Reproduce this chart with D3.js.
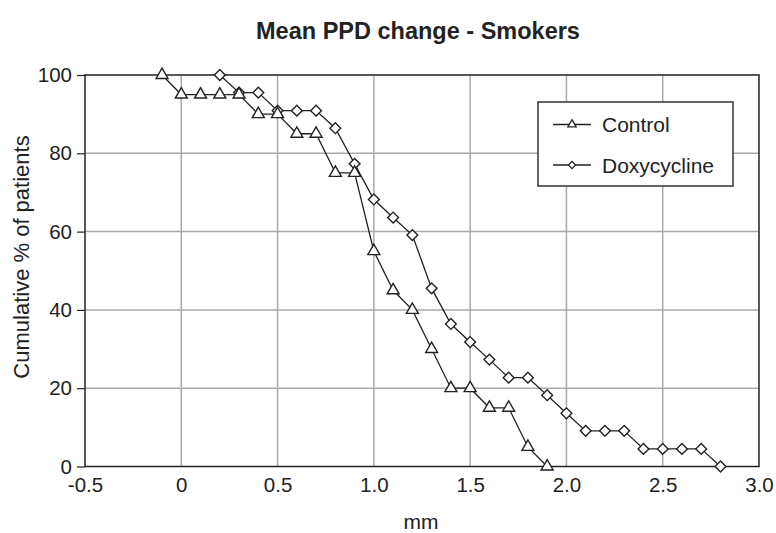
<!DOCTYPE html>
<html><head><meta charset="utf-8">
<script src="https://cdn.jsdelivr.net/npm/d3@7"></script>
<style>body{margin:0;background:#fff}svg{display:block}text{font-family:"Liberation Sans",Arial,sans-serif;fill:#222}</style>
</head><body><svg id="c" width="776" height="533"></svg>
<script>
const controlX = [-0.1,0,0.1,0.2,0.3,0.4,0.5,0.6,0.7,0.8,0.9,1.0,1.1,1.2,1.3,1.4,1.5,1.6,1.7,1.8,1.9];
const controlY = [100,95,95,95,95,90,90,85,85,75,75,55,45,40,30,20,20,15,15,5,0];
const doxyX = [0.2,0.3,0.4,0.5,0.6,0.7,0.8,0.9,1.0,1.1,1.2,1.3,1.4,1.5,1.6,1.7,1.8,1.9,2.0,2.1,2.2,2.3,2.4,2.5,2.6,2.7,2.8];
const doxyY = [100,95.5,95.5,90.9,90.9,90.9,86.4,77.3,68.2,63.6,59.1,45.5,36.4,31.8,27.3,22.7,22.7,18.2,13.6,9.1,9.1,9.1,4.5,4.5,4.5,4.5,0];
const xTicks = [-0.5,0,0.5,1.0,1.5,2.0,2.5,3.0];
const xTickLabels = ["-0.5","0","0.5","1.0","1.5","2.0","2.5","3.0"];
const yTicks = [0,20,40,60,80,100];
const seriesNames = ["Control","Doxycycline"];

const svg = d3.select("#c");
const L=85, R=759, T=75, B=466.5;
const x = d3.scaleLinear().domain([-0.5,3.0]).range([L,R]);
const y = d3.scaleLinear().domain([0,100]).range([B,T]);
const FONT = "'Liberation Sans',Arial,sans-serif";

// grid
svg.append("g").selectAll("line").data(xTicks.slice(1,-1)).join("line")
  .attr("x1",d=>x(d)).attr("x2",d=>x(d)).attr("y1",T).attr("y2",B)
  .attr("stroke","#aaa").attr("stroke-width",1.5);
svg.append("g").selectAll("line").data(yTicks.slice(1,-1)).join("line")
  .attr("x1",L).attr("x2",R).attr("y1",d=>y(d)).attr("y2",d=>y(d))
  .attr("stroke","#aaa").attr("stroke-width",1.5);

// border
svg.append("rect").attr("x",L).attr("y",T).attr("width",R-L).attr("height",B-T)
  .attr("fill","none").attr("stroke","#222").attr("stroke-width",1.5);

// y axis
const ya = svg.append("g").attr("transform",`translate(${L},0)`)
  .call(d3.axisLeft(y).tickValues(yTicks).tickSize(8).tickPadding(5).tickFormat(d3.format("d")));
ya.select(".domain").remove();
ya.selectAll("line").attr("stroke","#222").attr("stroke-width",1.2);
ya.selectAll("text").attr("font-size",20.5).attr("fill","#222").style("font-family",FONT);

// x axis
const xa = svg.append("g").attr("transform",`translate(0,${B})`)
  .call(d3.axisBottom(x).tickValues(xTicks).tickSize(0).tickPadding(11).tickFormat((d,i)=>xTickLabels[i]));
xa.select(".domain").remove();
xa.selectAll("text").attr("font-size",20.5).attr("fill","#222").style("font-family",FONT);

// titles
svg.append("text").attr("x",418).attr("y",39).attr("text-anchor","middle")
  .attr("font-size",23.5).attr("font-weight","bold").text("Mean PPD change - Smokers");
svg.append("text").attr("x",421).attr("y",529).attr("text-anchor","middle")
  .attr("font-size",21).text("mm");
svg.append("text").attr("transform","translate(29,257) rotate(-90)").attr("text-anchor","middle")
  .attr("font-size",22).text("Cumulative % of patients");

const line = d3.line().x(d=>x(d[0])).y(d=>y(d[1]));
const tri = d3.symbol().type(d3.symbolTriangle).size(62);
const sq = d3.symbol().type(d3.symbolSquare).size(58);

const cData = controlX.map((v,i)=>[v,controlY[i]]);
const dData = doxyX.map((v,i)=>[v,doxyY[i]]);

function drawSeries(data, sym, rot){
  svg.append("path").datum(data).attr("d",line).attr("fill","none").attr("stroke","#222").attr("stroke-width",1.3);
  svg.append("g").selectAll("path").data(data).join("path")
    .attr("d",sym).attr("transform",d=>`translate(${x(d[0])},${y(d[1])}) rotate(${rot})`)
    .attr("fill","#fff").attr("stroke","#222").attr("stroke-width",1.4);
}
drawSeries(dData, sq, 45);
drawSeries(cData, tri, 0);

// legend
const lg = svg.append("g");
lg.append("rect").attr("x",538).attr("y",102).attr("width",195).attr("height",84)
  .attr("fill","#fff").attr("stroke","#333").attr("stroke-width",1.5);
const legY = [124.5,165];
const legSyms = [d3.symbol().type(d3.symbolTriangle).size(30), d3.symbol().type(d3.symbolSquare).size(26)];
const legRot = [0,45];
seriesNames.forEach((n,i)=>{
  lg.append("line").attr("x1",553).attr("x2",591).attr("y1",legY[i]).attr("y2",legY[i]).attr("stroke","#222").attr("stroke-width",1.3);
  lg.append("path").attr("d",legSyms[i]).attr("transform",`translate(572,${legY[i]}) rotate(${legRot[i]})`)
    .attr("fill","#fff").attr("stroke","#222").attr("stroke-width",1.3);
  lg.append("text").attr("x",602).attr("y",legY[i]+7.5).attr("font-size",21).text(n);
});
</script></body></html>
